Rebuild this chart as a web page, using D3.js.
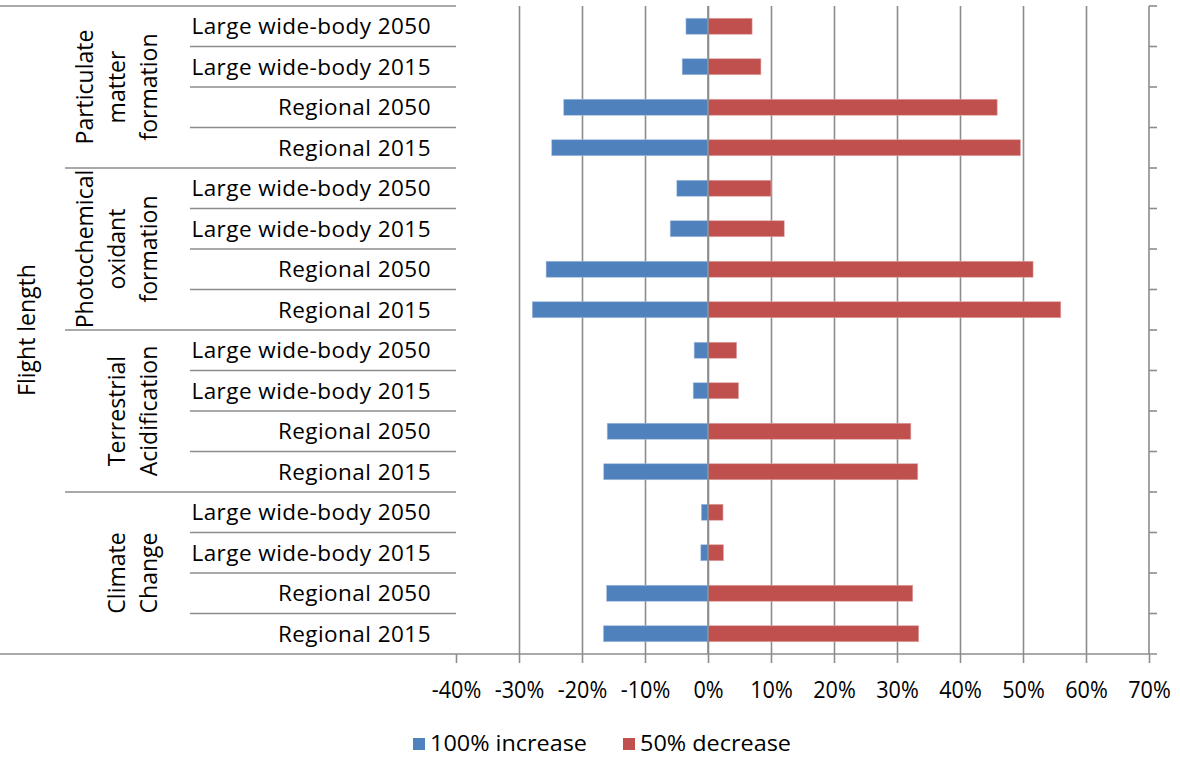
<!DOCTYPE html>
<html>
<head>
<meta charset="utf-8">
<script src="https://cdn.jsdelivr.net/npm/d3@7"></script>
<style>
  body { margin: 0; background: #fff; }
  svg { display: block; font-family: "Open Sans", sans-serif; }
  .row-label { font-size: 22.5px; fill: #000; letter-spacing: 0.45px; }
  .group-label { font-size: 23px; fill: #000; }
  .tick text { font-size: 23.5px; fill: #000; font-family: "Open Sans", sans-serif; }
  .legend text { font-size: 21px; fill: #000; }
</style>
</head>
<body>
<div id="chart"></div>
<script>
const groupLines = [
  ["Particulate", "matter", "formation"],
  ["Photochemical", "oxidant", "formation"],
  ["Terrestrial", "Acidification"],
  ["Climate", "Change"],
];
const items = ["Large wide-body 2050", "Large wide-body 2015", "Regional 2050", "Regional 2015"];
const seriesNames = ["100% increase", "50% decrease"];

// top to bottom, 4 groups x 4 items, in percent
const increase = [
  -3.5, -4.1, -22.9, -24.8,
  -4.95, -6.0, -25.7, -27.9,
  -2.2, -2.35, -16.0, -16.55,
  -1.06, -1.14, -16.1, -16.6,
];
const decrease = [
  7.0, 8.4, 45.9, 49.6,
  10.0, 12.1, 51.6, 56.0,
  4.55, 4.85, 32.2, 33.3,
  2.38, 2.46, 32.5, 33.45,
];
const xTicks = [-40, -30, -20, -10, 0, 10, 20, 30, 40, 50, 60, 70];

const width = 1180;
const height = 758;
const colors = { inc: "#4F81BD", dec: "#C0504D", grid: "#8c8c8c" };

const rows = [];
groupLines.forEach((g, gi) => {
  items.forEach((name, ii) => {
    const k = gi * items.length + ii;
    rows.push({ id: k, group: gi, name, inc: increase[k] / 100, dec: decrease[k] / 100 });
  });
});

const svg = d3.select("#chart").append("svg")
  .attr("width", width)
  .attr("height", height);

const plot = { left: 456, right: 1149, top: 6, bottom: 654 };

const x = d3.scaleLinear()
  .domain([-0.4, 0.7])
  .range([plot.left, plot.right]);

const rowBand = d3.scaleBand()
  .domain(rows.map((d) => d.id))
  .range([plot.top, plot.bottom]);

const y = d3.scaleBand()
  .domain(rows.map((d) => d.id))
  .range([plot.top, plot.bottom])
  .paddingInner(0.605)
  .paddingOuter(0.3025);

// vertical gridlines
svg.append("g")
  .attr("transform", `translate(0,${plot.top})`)
  .call(d3.axisBottom(x)
    .tickValues(xTicks.filter((t) => t > -40 && t < 70).map((t) => t / 100))
    .tickSize(plot.bottom - plot.top)
    .tickFormat(""))
  .call((g) => g.select(".domain").remove())
  .call((g) => g.selectAll("line").attr("stroke", colors.grid).attr("stroke-width", 1.6));

// row separators
const boundaries = d3.range(rows.length).map((i) => rowBand(i));
svg.append("g")
  .selectAll("line")
  .data(boundaries)
  .join("line")
  .attr("x1", (d, i) => (i === 0 ? 0 : i % items.length === 0 ? 65 : 190))
  .attr("x2", plot.left)
  .attr("y1", (d) => d)
  .attr("y2", (d) => d)
  .attr("stroke", colors.grid)
  .attr("stroke-width", 1.6);

// right axis line and its ticks
svg.append("line")
  .attr("x1", plot.right).attr("x2", plot.right)
  .attr("y1", plot.top).attr("y2", plot.bottom)
  .attr("stroke", colors.grid).attr("stroke-width", 1.6);
svg.append("g")
  .selectAll("line")
  .data(boundaries)
  .join("line")
  .attr("x1", plot.right)
  .attr("x2", plot.right + 8)
  .attr("y1", (d) => d)
  .attr("y2", (d) => d)
  .attr("stroke", colors.grid)
  .attr("stroke-width", 1.6);

// bars
const bars = svg.append("g");
bars.selectAll(".inc")
  .data(rows)
  .join("rect")
  .attr("class", "inc")
  .attr("x", (d) => x(d.inc))
  .attr("width", (d) => x(0) - x(d.inc))
  .attr("y", (d) => y(d.id))
  .attr("height", y.bandwidth())
  .attr("fill", colors.inc)
  .attr("stroke", "#a9c0df")
  .attr("stroke-width", 0.6);
bars.selectAll(".dec")
  .data(rows)
  .join("rect")
  .attr("class", "dec")
  .attr("x", x(0))
  .attr("width", (d) => x(d.dec) - x(0))
  .attr("y", (d) => y(d.id))
  .attr("height", y.bandwidth())
  .attr("fill", colors.dec)
  .attr("stroke", "#e0a9a8")
  .attr("stroke-width", 0.6);

// zero line on top of bars
svg.append("line")
  .attr("x1", x(0)).attr("x2", x(0))
  .attr("y1", plot.top).attr("y2", plot.bottom)
  .attr("stroke", colors.grid).attr("stroke-width", 1.6);

// bottom axis
const xAxis = svg.append("g")
  .attr("transform", `translate(0,${plot.bottom})`)
  .call(d3.axisBottom(x)
    .tickValues(xTicks.map((t) => t / 100))
    .tickSizeInner(9)
    .tickSizeOuter(0)
    .tickPadding(18)
    .tickFormat((d) => `${Math.round(d * 100)}%`));
xAxis.select(".domain").remove();
xAxis.selectAll("line").attr("stroke", colors.grid).attr("stroke-width", 1.6);
xAxis.selectAll("text").attr("transform", "scale(0.92,1)");
svg.append("line")
  .attr("x1", 0).attr("x2", plot.right + 8)
  .attr("y1", plot.bottom).attr("y2", plot.bottom)
  .attr("stroke", colors.grid).attr("stroke-width", 1.6);

// row labels
svg.append("g")
  .selectAll("text")
  .data(rows)
  .join("text")
  .attr("class", "row-label")
  .attr("x", 431)
  .attr("y", (d) => rowBand(d.id) + rowBand.bandwidth() / 2)
  .attr("dy", "0.36em")
  .attr("text-anchor", "end")
  .text((d) => d.name);

// group labels, rotated
groupLines.forEach((lines, gi) => {
  const cy = rowBand(gi * items.length) + rowBand.step() * items.length / 2;
  const n = lines.length;
  lines.forEach((line, li) => {
    const cx = 149 - (n - 1 - li) * 32;
    svg.append("text")
      .attr("class", "group-label")
      .attr("transform", `translate(${cx},${cy}) rotate(-90)`)
      .attr("text-anchor", "middle")
      .attr("dy", "0.36em")
      .text(line);
  });
});

svg.append("text")
  .attr("class", "group-label")
  .attr("transform", `translate(27,${(plot.top + plot.bottom) / 2}) rotate(-90)`)
  .attr("text-anchor", "middle")
  .attr("dy", "0.36em")
  .text("Flight length");

// legend
const legend = svg.append("g").attr("class", "legend");
const legendX = [413, 623];
const legendColors = [colors.inc, colors.dec];
seriesNames.forEach((name, i) => {
  const item = legend.append("g").attr("transform", `translate(${legendX[i]},743)`);
  item.append("rect")
    .attr("x", 0).attr("y", -5)
    .attr("width", 12).attr("height", 12)
    .attr("fill", legendColors[i]);
  item.append("text")
    .attr("x", 17)
    .attr("dy", "0.36em")
    .attr("textLength", i === 0 ? 157 : 151)
    .attr("lengthAdjust", "spacingAndGlyphs")
    .text(name);
});
</script>
</body>
</html>
